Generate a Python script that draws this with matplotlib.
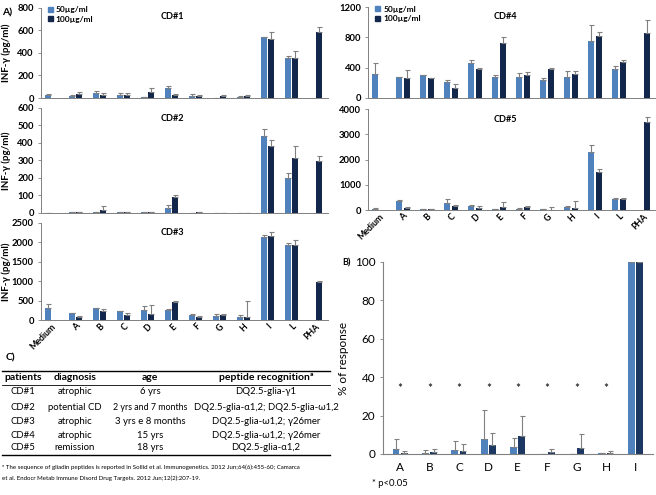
import matplotlib
matplotlib.use('Agg')
import matplotlib.pyplot as plt
from matplotlib.patches import Patch
from matplotlib.lines import Line2D
import numpy as np

plt.rcParams['font.family'] = ['Lato', 'DejaVu Sans']

nan = np.nan
W, H = 656, 495

cats = ['Medium', 'A', 'B', 'C', 'D', 'E', 'F', 'G', 'H', 'I', 'L', 'PHA']

cd1_50 = [30, 20, 45, 25, 5, 85, 15, 3, 10, 535, 355, nan]
cd1_50_err = [5, 5, 15, 15, 5, 25, 20, 0, 8, 5, 20, nan]
cd1_100 = [nan, 35, 25, 25, 50, 25, 15, 15, 15, 525, 355, 585]
cd1_100_err = [nan, 20, 20, 20, 35, 10, 15, 10, 15, 55, 60, 40]

cd2_50 = [2, 3, 5, 3, 8, 30, 2, 2, 2, 438, 200, nan]
cd2_50_err = [0, 0, 3, 0, 0, 15, 0, 0, 0, 38, 30, nan]
cd2_100 = [nan, 3, 15, 3, 3, 90, 3, 2, 2, 380, 312, 297]
cd2_100_err = [nan, 0, 25, 0, 0, 15, 0, 0, 0, 38, 68, 27]

cd3_50 = [300, 180, 310, 220, 250, 270, 140, 110, 90, 2130, 1930, nan]
cd3_50_err = [100, 10, 10, 15, 110, 10, 10, 50, 30, 50, 60, nan]
cd3_100 = [nan, 90, 240, 130, 150, 470, 80, 130, 80, 2160, 1940, 970]
cd3_100_err = [nan, 10, 50, 40, 230, 10, 15, 15, 410, 100, 120, 30]

cd4_50 = [310, 270, 295, 210, 460, 280, 280, 240, 270, 755, 380, nan]
cd4_50_err = [150, 5, 5, 25, 35, 25, 45, 15, 85, 205, 35, nan]
cd4_100 = [nan, 260, 260, 125, 385, 730, 295, 385, 320, 820, 470, 855]
cd4_100_err = [nan, 105, 5, 55, 5, 80, 40, 10, 35, 50, 25, 170]

cd5_50 = [50, 370, 40, 280, 170, 30, 40, 20, 130, 2300, 440, nan]
cd5_50_err = [10, 30, 10, 150, 15, 10, 30, 10, 20, 260, 20, nan]
cd5_100 = [nan, 90, 30, 160, 70, 120, 120, 5, 70, 1520, 430, 3470]
cd5_100_err = [nan, 10, 20, 20, 70, 180, 20, 100, 300, 110, 40, 230]

b_cats = ['A', 'B', 'C', 'D', 'E', 'F', 'G', 'H', 'I']
b_50 = [2.5, 0.5, 2.2, 8, 3.5, 0, 0, 0.3, 100]
b_50_err = [5.5, 1.5, 4.8, 15, 5, 0, 0, 0.3, 0]
b_100 = [0.5, 1, 1.5, 4.5, 9.5, 0.8, 3.2, 0.6, 100]
b_100_err = [1.2, 1.5, 3.5, 6.5, 10.5, 1.9, 7, 1, 0]
b_sig = [True] * 8 + [False]

BLUE = '#4F81BD'
DARK = '#13264C'
DARK_B = '#1C3761'
GREY = '#808080'


def rect(l, t, r, b):
    return [l / W, 1 - b / H, (r - l) / W, (b - t) / H]


def bars(ax, x, vals, errs, off, w, color):
    vals = np.asarray(vals, float)
    errs = np.asarray(errs, float)
    m = np.isfinite(vals)
    xs = np.asarray(x, float)[m] + off
    ax.bar(xs, vals[m], w, color=color, zorder=2)
    e = np.nan_to_num(errs[m])
    ax.errorbar(xs, vals[m], yerr=[np.zeros_like(e), e], fmt='none',
                ecolor=GREY, elinewidth=0.8, capsize=1.8, capthick=0.8, zorder=3)


fig = plt.figure(figsize=(W / 100, H / 100), dpi=100)

panels = [
    ('CD#1', (cd1_50, cd1_50_err, cd1_100, cd1_100_err), 800, 200, (40.7, 7.5, 327.5, 98), True, False, True),
    ('CD#2', (cd2_50, cd2_50_err, cd2_100, cd2_100_err), 600, 100, (40.7, 107.7, 327.5, 213), True, False, False),
    ('CD#3', (cd3_50, cd3_50_err, cd3_100, cd3_100_err), 2500, 500, (40.7, 223, 327.5, 320), True, True, False),
    ('CD#4', (cd4_50, cd4_50_err, cd4_100, cd4_100_err), 1200, 400, (368, 7.3, 655, 97.7), False, False, True),
    ('CD#5', (cd5_50, cd5_50_err, cd5_100, cd5_100_err), 4000, 1000, (368, 109, 655, 210), False, True, False),
]

x = np.arange(len(cats))
for name, (v50, e50, v100, e100), top, step, box, ylab, xlab, leg in panels:
    ax = fig.add_axes(rect(*box))
    bars(ax, x, v50, e50, -0.16, 0.25, BLUE)
    bars(ax, x, v100, e100, 0.16, 0.25, DARK)
    ax.set_xlim(-0.45, 11.5)
    ax.set_ylim(0, top)
    ax.set_yticks(np.arange(0, top + 1, step))
    for s in ['top', 'right']:
        ax.spines[s].set_visible(False)
    for s in ['left', 'bottom']:
        ax.spines[s].set_color(GREY)
        ax.spines[s].set_linewidth(0.7)
    ax.tick_params(axis='y', length=2, width=0.6, color=GREY, pad=3, labelsize=6.8)
    ax.tick_params(axis='x', length=0, pad=1.5)
    for t in ax.get_yticklabels():
        t.set_fontweight('bold')
    if xlab:
        ax.set_xticks(x)
        ax.set_xticklabels(cats, rotation=45, ha='right', rotation_mode='anchor',
                           fontsize=6.3, fontweight='bold')
    else:
        ax.set_xticks([])
    if ylab:
        ax.set_ylabel('INF-γ (pg/ml)', fontsize=7, fontweight='bold')
        ax.yaxis.set_label_coords(-0.105, 0.5)
    ax.text(0.46 if ylab else 0.48, 0.9, name, transform=ax.transAxes,
            ha='center', va='center', fontsize=6.6, fontweight='bold')
    if leg:
        ax.legend(handles=[Patch(color=BLUE, label='50µg/ml'), Patch(color=DARK, label='100µg/ml')],
                  loc='upper left', bbox_to_anchor=(0.005, 1.08), frameon=False,
                  prop={'size': 6, 'weight': 'bold'}, handlelength=0.55, handleheight=0.55,
                  handletextpad=0.4, labelspacing=0.3, borderpad=0.2)

fig.text(2 / W, 1 - 13 / H, 'A)', fontsize=7.5, fontweight='bold', va='center')

# panel B
axb = fig.add_axes(rect(383, 262, 653, 454))
xb = np.arange(len(b_cats))
bars(axb, xb, b_50, b_50_err, -0.14, 0.23, BLUE)
bars(axb, xb, b_100, b_100_err, 0.14, 0.23, DARK_B)
for i, s in enumerate(b_sig):
    if s:
        axb.text(i, 34, '*', ha='center', va='center', fontsize=8.5)
axb.set_xlim(-0.58, 8.6)
axb.set_ylim(0, 100)
axb.set_yticks(np.arange(0, 101, 20))
axb.set_xticks(xb)
axb.set_xticklabels(b_cats, fontsize=8.5)
for s in ['top', 'right']:
    axb.spines[s].set_visible(False)
for s in ['left', 'bottom']:
    axb.spines[s].set_color(GREY)
    axb.spines[s].set_linewidth(0.8)
axb.tick_params(axis='y', length=2.5, width=0.6, color=GREY, labelsize=8.5, pad=3)
axb.tick_params(axis='x', length=0, pad=6)
axb.set_ylabel('% of response', fontsize=8.5)
axb.yaxis.set_label_coords(-0.125, 0.5)
fig.text(342 / W, 1 - 263 / H, 'B)', fontsize=6.5, fontweight='bold', va='center')
fig.text(372 / W, 1 - 484 / H, '* p<0.05', fontsize=6.8, va='center')

# panel C table
fig.text(6 / W, 1 - 358 / H, 'C)', fontsize=7.5, fontweight='bold', va='center')
col_x = [23, 75, 150, 266]
header = ['patients', 'diagnosis', 'age', 'peptide recognitionª']
patients = ['CD#1', 'CD#2', 'CD#3', 'CD#4', 'CD#5']
diagnosis = ['atrophic', 'potential CD', 'atrophic', 'atrophic', 'remission']
age = ['6 yrs', '2 yrs and 7 months', '3 yrs e 8 months', '15 yrs', '18 yrs']
peptides = ['DQ2.5-glia-γ1', 'DQ2.5-glia-α1,2; DQ2.5-glia-ω1,2',
            'DQ2.5-glia-ω1,2; γ26mer', 'DQ2.5-glia-ω1,2; γ26mer', 'DQ2.5-glia-α1,2']
row_y = [392, 408, 421, 435, 447]

for cx, h in zip(col_x, header):
    fig.text(cx / W, 1 - 378 / H, h, fontsize=7.5, fontweight='bold', ha='center', va='center')
for j, row in enumerate(zip(patients, diagnosis, age, peptides)):
    for k, (cx, txt) in enumerate(zip(col_x, row)):
        fs = 6.4 if (k == 2 and j == 1) else 6.9
        fig.text(cx / W, 1 - row_y[j] / H, txt, fontsize=fs, ha='center', va='center')
for ly, lw in [(371, 1.0), (385, 0.6), (455, 1.0)]:
    fig.add_artist(Line2D([2 / W, 330 / W], [1 - ly / H, 1 - ly / H], color='black', lw=lw))
fig.text(2 / W, 1 - 467 / H,
         'ª The sequence of gliadin peptides is reported in Sollid et al. Immunogenetics. 2012 Jun;64(6):455-60; Camarca',
         fontsize=4.4, va='center')
fig.text(2 / W, 1 - 478 / H,
         'et al. Endocr Metab Immune Disord Drug Targets. 2012 Jun;12(2):207-19.',
         fontsize=4.4, va='center')

fig.savefig('out.png', dpi=100)
